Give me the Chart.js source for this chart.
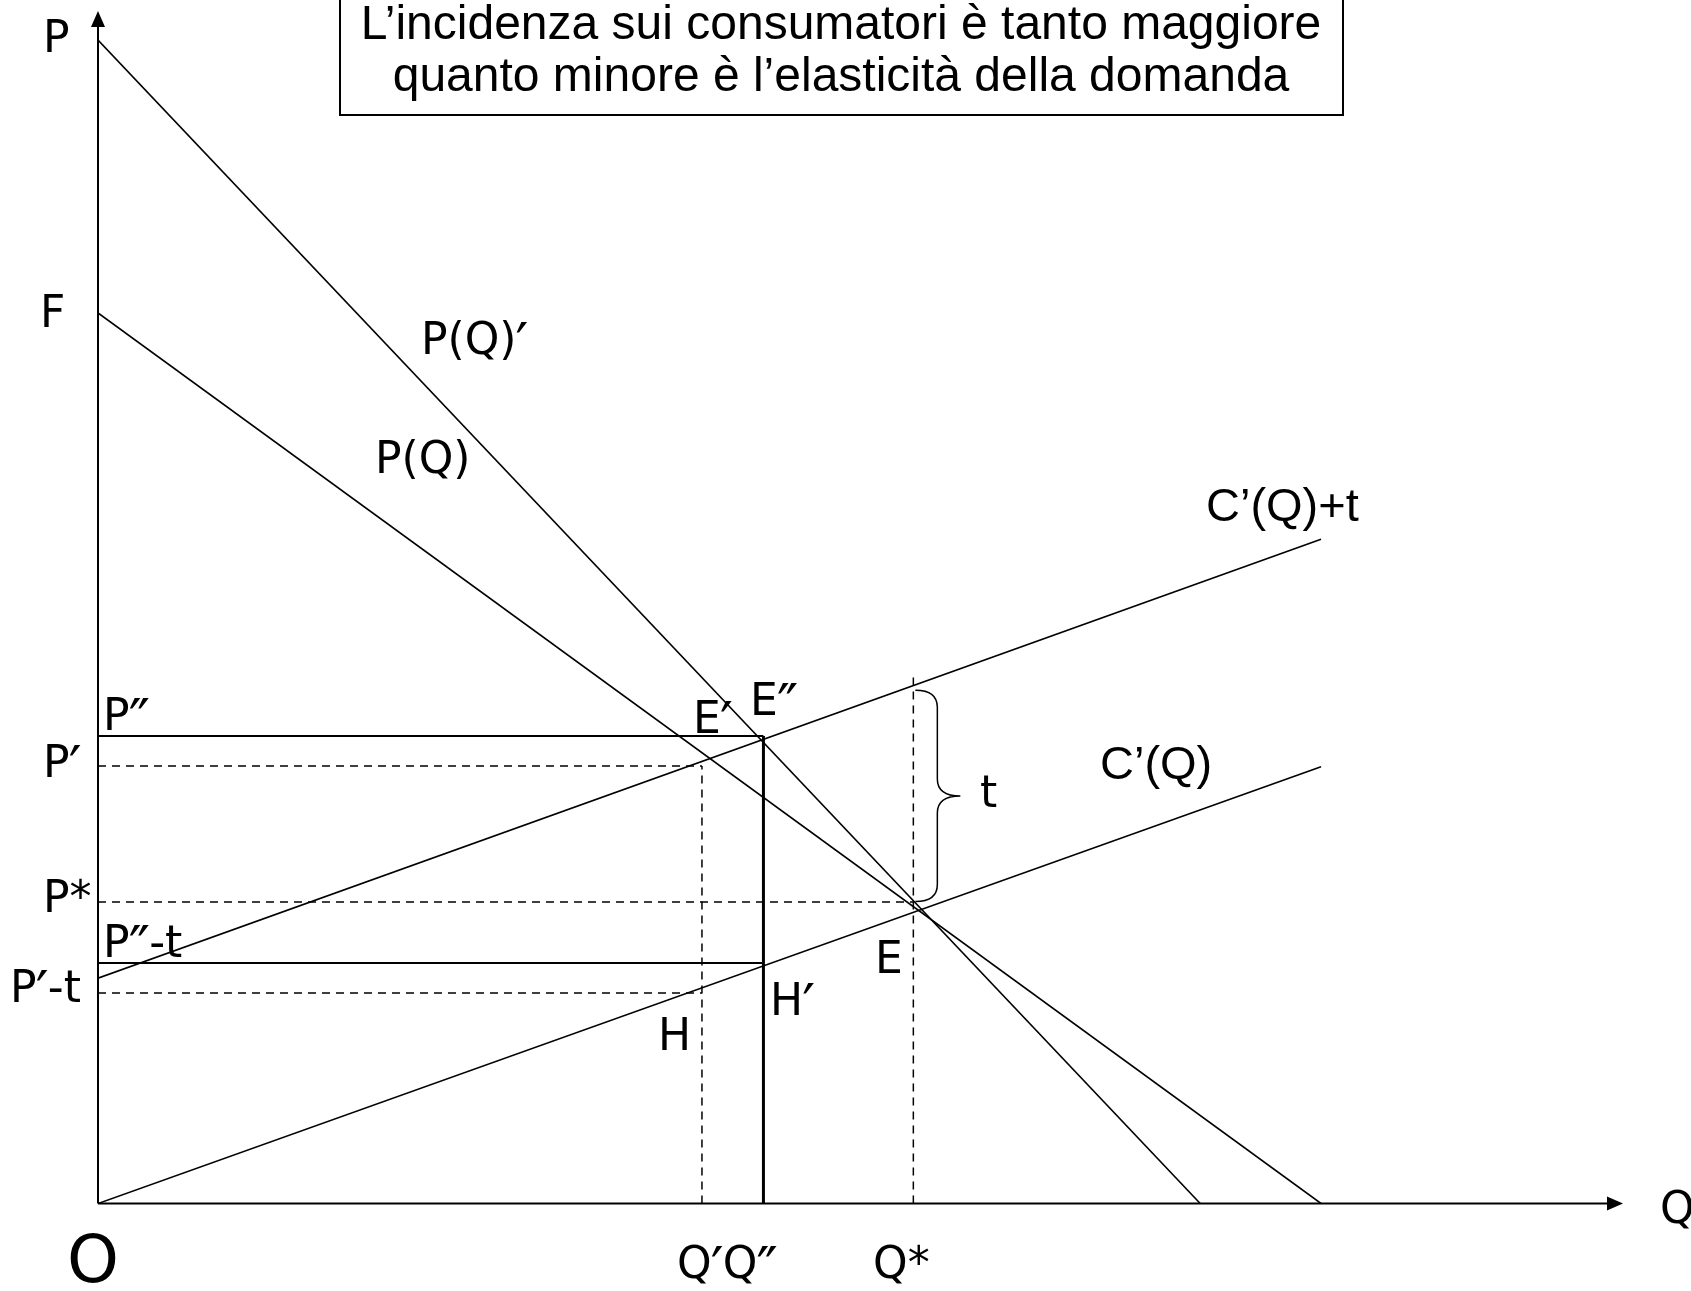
<!DOCTYPE html>
<html lang="it">
  <head>
    <meta charset="UTF-8" />
    <title>Incidenza dell'imposta</title>
    <script src="https://cdn.jsdelivr.net/npm/chart.js@4.4.1/dist/chart.umd.min.js"></script>
    <style>
      html, body {
        margin: 0;
        padding: 0;
        background: #ffffff;
      }
      #wrap {
        width: 1691px;
        height: 1291px;
        position: relative;
      }
    </style>
  </head>
  <body>
    <div id="wrap">
      <canvas id="taxChart" width="1691" height="1291"></canvas>
    </div>

    <script>
      // curves: quantity / price pairs at the two ends of each straight line
      const demandQ = [0, 113.4];
      const demandP = [82.6, 0];          // P(Q), starts at F
      const steepDemandQ = [0, 102.2];
      const steepDemandP = [107.9, 0];    // P(Q)'
      const costQ = [0, 113.4];
      const costP = [0, 40.5];            // C'(Q)
      const costTaxP = [20.9, 61.6];      // C'(Q)+t

      // equilibrium quantities: Q', Q'', Q*
      const eqQuantities = [56.0, 61.7, 75.6];
      // prices: P'', P', P*, P''-t, P'-t
      const eqPrices = [43.35, 40.57, 27.96, 22.3, 19.52];
      // top of the Q* guide and of the brace marking t
      const qStarTop = 49.0;
      const braceRange = [47.6, 28.0];

      const xMax = 141.4;
      const yMax = 110.6;

      const [qP, qPP, qS] = eqQuantities;
      const [pPP, pP, pS, pPPt, pPt] = eqPrices;

      const pts = (xs, ys) => xs.map((x, i) => ({ x: x, y: ys[i] }));
      const seg = (x0, y0, x1, y1) => [{ x: x0, y: y0 }, { x: x1, y: y1 }];

      const line = (data, width, dash) => ({
        data: data,
        showLine: true,
        borderColor: '#000',
        borderWidth: width,
        borderDash: dash || [],
        pointRadius: 0,
        fill: false,
        tension: 0
      });
      const DASH = [8, 6];

      const SANS = '"DejaVu Sans"';
      const ARIAL = '"Liberation Sans"';

      // text placed on the diagram: [text, x, baseline, size, family]
      const labels = [
        ['P', 43, 52, 44, SANS],
        ['F', 40, 327, 44, SANS],
        ['P(Q)\u2032', 421, 354, 44, SANS],
        ['P(Q)', 375, 473, 44, SANS],
        ['C\u2019(Q)+t', 1206, 521, 47, ARIAL],
        ['C\u2019(Q)', 1100, 779, 47, ARIAL],
        ['P\u2033', 103, 730, 44, SANS],
        ['P\u2032', 43, 777, 44, SANS],
        ['P*', 43, 912, 44, SANS],
        ['P\u2033-t', 103, 957, 44, SANS],
        ['P\u2032-t', 10, 1002, 44, SANS],
        ['E\u2032', 693, 733, 44, SANS],
        ['E\u2033', 750, 715, 44, SANS],
        ['E', 875, 973, 44, SANS],
        ['H\u2032', 770, 1015, 44, SANS],
        ['H', 658, 1050, 44, SANS],
        ['t', 980, 807, 44, SANS],
        ['O', 67, 1282, 66, SANS],
        ['Q\u2032Q\u2033', 677, 1278, 44, SANS],
        ['Q*', 873, 1278, 44, SANS],
        ['Q', 1660, 1223, 44, SANS]
      ];

      const titleLines = [
        'L\u2019incidenza sui consumatori \u00e8 tanto maggiore',
        'quanto minore \u00e8 l\u2019elasticit\u00e0 della domanda'
      ];

      // primes drawn a bit larger and longer than the font's own glyph
      function drawLabel(ctx, txt, x, y, size, family) {
        let cx = x;
        for (const ch of txt) {
          if (ch === '\u2032' || ch === '\u2033') {
            const big = size * 1.3;
            ctx.font = big + 'px ' + family;
            ctx.fillText(ch, cx - size * 0.02, y + size * 0.22);
            cx += ctx.measureText(ch).width - size * 0.04;
          } else {
            ctx.font = size + 'px ' + family;
            ctx.fillText(ch, cx, y);
            cx += ctx.measureText(ch).width;
          }
        }
      }

      const diagramExtras = {
        id: 'diagramExtras',
        afterDatasetsDraw(chart) {
          const ctx = chart.ctx;
          const xs = chart.scales.x;
          const ys = chart.scales.y;
          const X = v => xs.getPixelForValue(v);
          const Y = v => ys.getPixelForValue(v);

          ctx.save();
          ctx.strokeStyle = '#000';
          ctx.fillStyle = '#000';

          // axes with arrow heads
          const ox = X(0), oy = Y(0);
          const tipX = X(xMax), tipY = Y(yMax);
          ctx.lineWidth = 2;
          ctx.beginPath();
          ctx.moveTo(ox, oy);
          ctx.lineTo(ox, tipY + 10);
          ctx.moveTo(ox, oy);
          ctx.lineTo(tipX - 10, oy);
          ctx.stroke();
          ctx.beginPath();
          ctx.moveTo(ox, tipY);
          ctx.lineTo(ox - 7, tipY + 16);
          ctx.lineTo(ox + 7, tipY + 16);
          ctx.closePath();
          ctx.fill();
          ctx.beginPath();
          ctx.moveTo(tipX, oy);
          ctx.lineTo(tipX - 16, oy - 7);
          ctx.lineTo(tipX - 16, oy + 7);
          ctx.closePath();
          ctx.fill();

          // brace for the tax wedge at Q*
          const bx0 = X(qS) + 2;
          const stem = bx0 + 22;
          const tip = bx0 + 45;
          const top = Y(braceRange[0]);
          const bot = Y(braceRange[1]);
          const mid = (top + bot) / 2;
          const r = 17;
          ctx.lineWidth = 1.5;
          ctx.beginPath();
          ctx.moveTo(bx0, top);
          ctx.quadraticCurveTo(stem, top, stem, top + r);
          ctx.lineTo(stem, mid - r);
          ctx.quadraticCurveTo(stem, mid, tip, mid);
          ctx.quadraticCurveTo(stem, mid, stem, mid + r);
          ctx.lineTo(stem, bot - r);
          ctx.quadraticCurveTo(stem, bot, bx0, bot);
          ctx.stroke();

          // labels
          ctx.textAlign = 'left';
          ctx.textBaseline = 'alphabetic';
          labels.forEach(([txt, x, y, size, family]) => {
            drawLabel(ctx, txt, x, y, size, family);
          });

          // boxed caption
          ctx.fillStyle = '#fff';
          ctx.fillRect(340, -2, 1003, 117);
          ctx.strokeStyle = '#000';
          ctx.lineWidth = 2;
          ctx.strokeRect(340, -2, 1003, 117);
          ctx.fillStyle = '#000';
          ctx.font = '48px ' + ARIAL;
          ctx.textAlign = 'center';
          ctx.fillText(titleLines[0], 841, 39);
          ctx.fillText(titleLines[1], 841, 91);
          ctx.restore();
        }
      };

      new Chart(document.getElementById('taxChart'), {
        type: 'scatter',
        data: {
          datasets: [
            line(pts(steepDemandQ, steepDemandP), 1.6),
            line(pts(demandQ, demandP), 1.6),
            line(pts(costQ, costP), 1.6),
            line(pts(costQ, costTaxP), 1.6),
            line(seg(0, pPP, qPP, pPP), 2),
            line(seg(0, pPPt, qPP, pPPt), 2),
            line(seg(qPP, 0, qPP, pPP), 3),
            line(seg(0, pP, qP, pP), 1.5, DASH),
            line(seg(0, pPt, qP, pPt), 1.5, DASH),
            line(seg(0, pS, qS, pS), 1.5, DASH),
            line(seg(qP, 0, qP, pP), 1.5, DASH),
            line(seg(qS, 0, qS, qStarTop), 1.5, DASH)
          ]
        },
        options: {
          responsive: false,
          animation: false,
          devicePixelRatio: 1,
          layout: { padding: { left: 98, right: 68, top: 11, bottom: 87.5 } },
          plugins: {
            legend: { display: false },
            tooltip: { enabled: false },
            title: { display: false }
          },
          scales: {
            x: { type: 'linear', min: 0, max: xMax, display: false },
            y: { type: 'linear', min: 0, max: yMax, display: false }
          }
        },
        plugins: [diagramExtras]
      });
    </script>
  </body>
</html>
